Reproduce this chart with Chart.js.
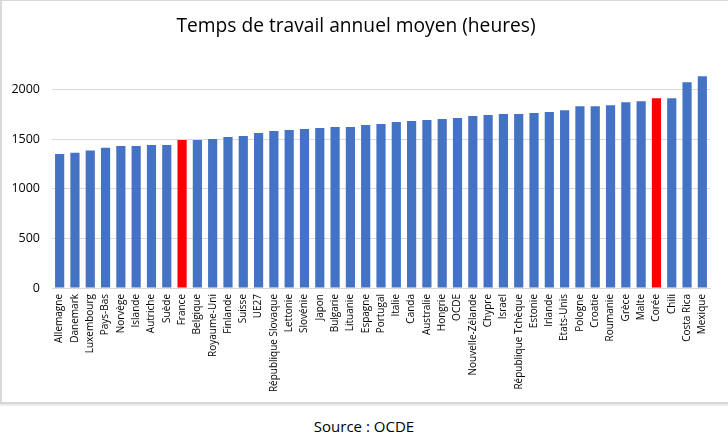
<!DOCTYPE html>
<html lang="fr">
<head>
  <meta charset="UTF-8" />
  <title>Temps de travail annuel moyen</title>
  <script src="https://cdn.jsdelivr.net/npm/chart.js"></script>
  <style>
    body {
      margin: 0;
      width: 728px;
      height: 446px;
      background: #fff;
      font-family: 'Open Sans', sans-serif;
      position: relative;
      overflow: hidden;
    }
    .frame {
      position: absolute;
      left: 0;
      top: 0;
      width: 728px;
      height: 404px;
      box-sizing: border-box;
      border-top: 1px solid #d9d9d9;
      border-left: 2px solid #d9d9d9;
      border-bottom: 2px solid #d6d6d6;
      box-shadow: 0 2px 0 #ececec;
    }
    .source {
      position: absolute;
      top: 416px;
      left: 0;
      width: 728px;
      text-align: center;
      font-size: 15px;
      color: #000;
    }
  </style>
</head>
<body>
  <div class="frame">
    <canvas id="chart"></canvas>
  </div>
  <div class="source">Source : OCDE</div>

  <script>
    const titleText = 'Temps de travail annuel moyen (heures)';
    const countries = [
      'Allemagne', 'Danemark', 'Luxembourg', 'Pays-Bas', 'Norvège', 'Islande',
      'Autriche', 'Suède', 'France', 'Belgique', 'Royaume-Uni', 'Finlande',
      'Suisse', 'UE27', 'République Slovaque', 'Lettonie', 'Slovénie', 'Japon',
      'Bulgarie', 'Lituanie', 'Espagne', 'Portugal', 'Italie', 'Canda',
      'Australie', 'Hongrie', 'OCDE', 'Nouvelle-Zélande', 'Chypre', 'Israel',
      'République Tchèque', 'Estonie', 'Irlande', 'Etats-Unis', 'Pologne',
      'Croatie', 'Roumanie', 'Grèce', 'Malte', 'Corée', 'Chili', 'Costa Rica',
      'Mexique'
    ];
    const hours = [
      1350, 1361, 1384, 1411, 1431, 1431,
      1441, 1441, 1491, 1491, 1501, 1521,
      1531, 1561, 1581, 1591, 1601, 1611,
      1621, 1621, 1641, 1651, 1671, 1681,
      1691, 1701, 1711, 1731, 1741, 1751,
      1751, 1761, 1771, 1791, 1831,
      1831, 1841, 1871, 1881, 1911, 1911, 2071,
      2131
    ];
    const highlighted = ['France', 'Corée'];
    const yTicks = [0, 500, 1000, 1500, 2000];

    const blue = '#4472C4';
    const red = '#FF0000';
    const barColors = countries.map(c => highlighted.includes(c) ? red : blue);

    const ctx = document.getElementById('chart').getContext('2d');
    new Chart(ctx, {
      type: 'bar',
      data: {
        labels: countries,
        datasets: [{
          data: hours,
          backgroundColor: barColors,
          barPercentage: 0.6,
          categoryPercentage: 1.0
        }]
      },
      options: {
        responsive: true,
        maintainAspectRatio: false,
        animation: false,
        layout: { padding: { left: 0, right: 18, top: 0, bottom: 0 } },
        plugins: {
          legend: { display: false },
          tooltip: { enabled: false },
          title: {
            display: true,
            text: titleText,
            color: '#000',
            font: { family: 'Open Sans', size: 19.2, weight: 'normal', lineHeight: 1.2 },
            padding: { top: 14, bottom: 26.5 }
          }
        },
        scales: {
          x: {
            grid: { display: false, drawTicks: false },
            border: { display: true, color: '#d9d9d9' },
            ticks: {
              autoSkip: false,
              minRotation: 90,
              maxRotation: 90,
              padding: 6,
              color: '#000',
              font: { family: 'Open Sans', size: 10 }
            },
            afterFit: s => { s.height = 114; }
          },
          y: {
            min: 0,
            max: 2250,
            grid: { color: '#d9d9d9', drawTicks: false },
            border: { display: false },
            afterBuildTicks: s => { s.ticks = yTicks.map(v => ({ value: v })); },
            ticks: {
              padding: 12,
              color: '#000',
              font: { family: 'Open Sans', size: 12.5 },
              callback: v => String(v)
            },
            afterFit: s => { s.width = 50; }
          }
        }
      }
    });
  </script>
</body>
</html>
